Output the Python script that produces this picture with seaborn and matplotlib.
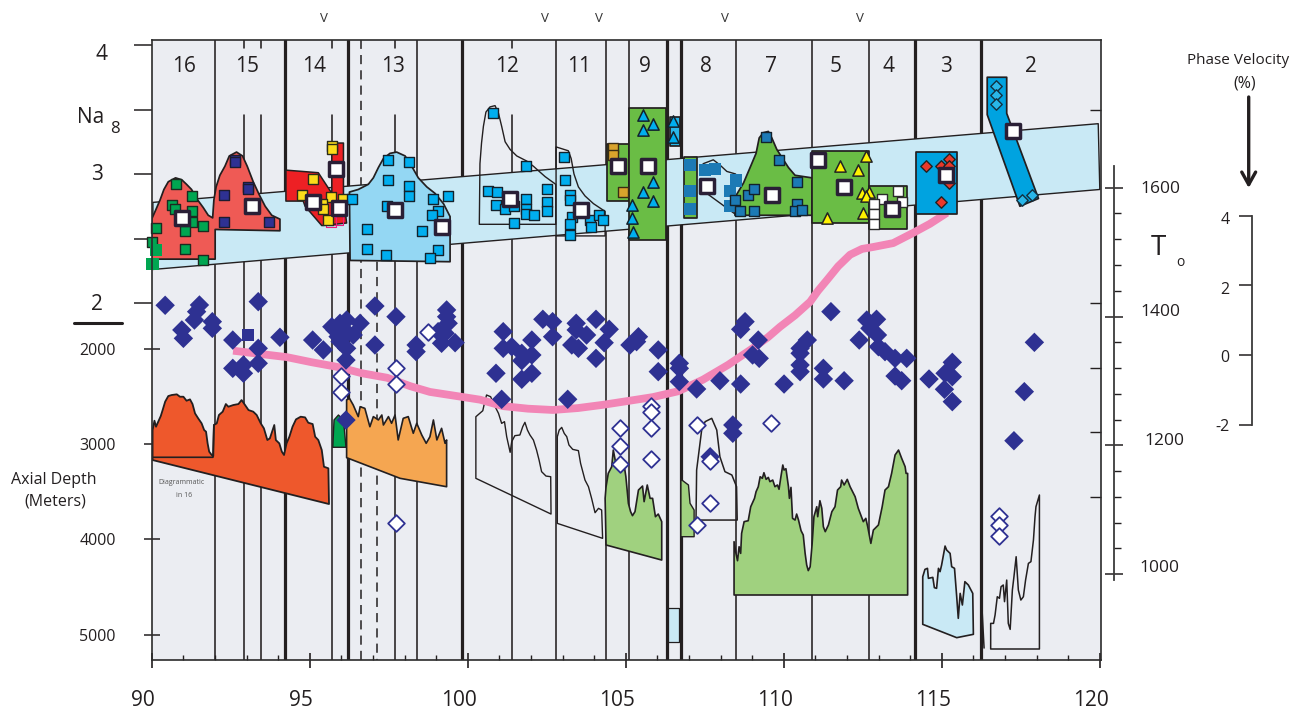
import numpy as np
import matplotlib
matplotlib.use("Agg")
import matplotlib.pyplot as plt
from matplotlib.ticker import MultipleLocator, FixedLocator, NullFormatter
from matplotlib.transforms import ScaledTranslation, blended_transform_factory
import seaborn as sns

# ---------------- section labels / axes text ----------------
seg_labels = ["16", "15", "14", "13", "12", "11", "9", "8", "7", "5", "4", "3", "2"]
seg_label_px = [184, 247, 314, 393, 507, 579, 645, 706, 771, 836, 888, 946, 1031]
depth_ticks = [2000, 3000, 4000, 5000]
lon_major = [90, 95, 100, 105, 110, 115, 120]
vent_lon = [95.5, 102.53, 104.25, 108.25, 112.55]

# ---------------- segment boundaries (longitude) ----------------
thick_lon = [94.26, 96.26, 99.89, 106.41, 106.85, 114.29, 116.39]
full_thin_lon = [92.04, 98.46, 102.88, 104.47, 105.2, 108.6, 111.02, 112.83]
gap_thin_lon = [92.96, 93.5, 95.76, 97.76, 101.48]
dash_full_lon = [96.68]
dash_part_lon = [97.18]

# ---------------- Na8 band ----------------
band_lon = [90.06, 120.12, 120.17, 90.06]
band_na = [2.78, 3.39, 2.88, 2.26]

# ---------------- Na8 polygons ----------------
red1_lon = [90.02, 90.13, 90.29, 90.41, 90.55, 90.78, 90.98, 91.13, 91.29, 91.45, 91.66, 91.82, 91.96, 92.0, 92.07, 92.19, 92.35, 92.49, 92.72, 92.91, 93.06, 93.25, 93.44, 93.63, 93.84, 94.1, 94.1, 92.04, 92.04, 90.02]
red1_na = [2.65, 2.71, 2.8, 2.88, 2.94, 2.97, 2.955, 2.92, 2.88, 2.81, 2.74, 2.68, 2.66, 2.8, 2.9, 2.99, 3.06, 3.14, 3.17, 3.14, 3.06, 2.94, 2.84, 2.75, 2.68, 2.65, 2.56, 2.57, 2.34, 2.34]
red14_lon = [94.29, 95.32, 95.75, 95.75, 96.12, 96.12, 96.22, 95.43, 94.9, 94.84, 94.29]
red14_na = [3.03, 3.01, 2.85, 3.24, 3.24, 2.82, 2.62, 2.6, 2.75, 2.79, 2.79]
sky13_lon = [96.31, 96.59, 96.91, 97.07, 97.23, 97.39, 97.6, 97.81, 98.08, 98.29, 98.5, 98.77, 99.03, 99.3, 99.51, 99.51, 96.33]
sky13_na = [2.86, 2.88, 2.92, 2.97, 3.05, 3.12, 3.16, 3.17, 3.14, 3.06, 2.97, 2.9, 2.85, 2.77, 2.67, 2.32, 2.33]
out12_lon = [100.44, 100.46, 100.51, 100.57, 100.65, 100.78, 100.94, 101.05, 101.15, 101.26, 101.42, 101.63, 101.95, 102.16, 102.53, 102.87, 102.87, 100.44]
out12_na = [2.61, 3.08, 3.24, 3.37, 3.48, 3.52, 3.53, 3.47, 3.37, 3.25, 3.19, 3.14, 3.10, 3.06, 2.98, 2.92, 2.61, 2.61]
out11_lon = [102.88, 103.27, 103.36, 103.45, 103.59, 103.8, 104.07, 104.44, 104.44, 102.88]
out11_na = [3.21, 3.18, 3.12, 3.0, 2.9, 2.83, 2.77, 2.71, 2.52, 2.52]
out8_lon = [107.46, 107.56, 107.88, 108.09, 108.31, 108.59]
out8_na = [3.03, 3.08, 3.11, 3.07, 3.02, 3.0]
out8b_lon = [107.67, 108.57]
out8b_na = [2.85, 2.69]
green7_lon = [108.57, 108.62, 108.84, 109.05, 109.24, 109.34, 109.47, 109.63, 109.74, 109.9, 110.11, 110.27, 110.48, 111.02, 111.02, 108.57]
green7_na = [2.72, 2.84, 2.93, 3.05, 3.16, 3.28, 3.32, 3.33, 3.28, 3.19, 3.11, 3.05, 2.99, 2.97, 2.68, 2.68]
blue2_lon = [116.59, 117.21, 117.21, 118.22, 117.63, 116.59]
blue2_na = [3.75, 3.75, 3.47, 2.81, 2.75, 3.46]
# rectangles: lon0, lon1, na_top, na_bottom, colour
rect_lon0 = [104.51, 105.2, 106.49, 106.94, 111.03, 112.84, 114.33]
rect_lon1 = [105.2, 106.38, 106.81, 107.35, 112.84, 114.03, 115.62]
rect_top = [3.23, 3.51, 3.44, 3.13, 3.18, 2.91, 3.17]
rect_bot = [2.79, 2.49, 3.22, 2.66, 2.62, 2.57, 2.69]
rect_col = ["#6abd45", "#6abd45", "#29b6e8", "#6abd45", "#6abd45", "#6abd45", "#00a3e0"]

# ---------------- Na8 samples ----------------
g16_lon = [90.79, 91.29, 90.66, 90.76, 91.29, 91.29, 91.64, 91.08, 90.15, 90.04, 91.08, 91.64]
g16_na = [2.92, 2.83, 2.76, 2.73, 2.71, 2.63, 2.60, 2.56, 2.58, 2.47, 2.42, 2.33]
g16b_lon = [90.16, 90.05]
g16b_na = [2.41, 2.30]
n15_lon = [92.67, 92.67, 92.32, 93.09, 93.09, 92.32, 93.76]
n15_na = [3.11, 3.09, 2.84, 2.9, 2.88, 2.63, 2.63]
y14_lon = [95.77, 95.77, 95.14, 94.81, 95.71, 96.12, 95.43, 95.48, 95.64]
y14_na = [3.22, 3.19, 2.96, 2.84, 2.82, 2.81, 2.77, 2.73, 2.64]
m14_lon = [95.72, 95.95]
m14_na = [2.63, 2.64]
b13_lon = [97.53, 98.2, 97.53, 98.2, 98.2, 96.39, 98.98, 99.44, 97.5, 99.13, 98.93, 96.86, 98.61, 96.86, 97.47, 99.13, 98.87]
b13_na = [3.11, 3.09, 2.95, 2.91, 2.83, 2.81, 2.81, 2.83, 2.75, 2.71, 2.68, 2.57, 2.56, 2.42, 2.37, 2.41, 2.35]
b12_lon = [100.89, 101.93, 100.73, 100.99, 100.97, 101.26, 101.55, 101.91, 101.91, 101.91, 102.18, 102.6, 102.6, 102.6, 101.55]
b12_na = [3.47, 3.06, 2.87, 2.86, 2.76, 2.73, 2.75, 2.81, 2.73, 2.69, 2.68, 2.88, 2.78, 2.71, 2.62]
b11_lon = [103.12, 103.17, 103.31, 103.31, 103.4, 103.31, 103.31, 103.97, 103.99, 104.23, 104.36]
b11_na = [3.13, 2.95, 2.84, 2.8, 2.67, 2.61, 2.53, 2.64, 2.59, 2.68, 2.64]
gold_lon = [104.7, 104.7, 105.0]
gold_na = [3.2, 3.15, 2.86]
tri_b_lon = [105.65, 105.95, 105.65, 105.95, 105.65, 105.95, 105.3, 105.3, 105.34, 106.6, 106.6]
tri_b_na = [3.46, 3.39, 3.34, 2.94, 2.86, 2.79, 2.76, 2.66, 2.55, 3.41, 3.29]
t8_lon = [107.15, 107.15, 107.15, 107.63, 107.92, 108.6, 108.4, 108.4]
t8_na = [3.07, 2.87, 2.73, 3.03, 3.04, 2.95, 2.87, 2.75]
t7_lon = [108.57, 108.73, 109.19, 108.98, 109.19, 109.55, 109.97, 110.53, 110.53, 110.48, 110.69]
t7_na = [2.8, 2.71, 2.71, 2.84, 2.88, 3.29, 3.11, 2.94, 2.77, 2.71, 2.72]
tri_y_lon = [111.91, 112.47, 112.73, 112.61, 112.82, 112.63, 111.5, 112.72]
tri_y_na = [3.06, 3.03, 3.14, 2.85, 2.86, 2.7, 2.66, 2.83]
w4_lon = [113.75, 113.23, 112.98, 112.98, 112.98, 113.87]
w4_na = [2.87, 2.81, 2.77, 2.69, 2.61, 2.78]
rd3_lon = [114.65, 115.37, 115.11, 115.11, 115.37, 115.37]
rd3_na = [3.06, 3.12, 3.06, 2.78, 3.06, 2.93]
bd2_lon = [116.88, 116.88, 116.88, 117.7, 118.0]
bd2_na = [3.68, 3.61, 3.54, 2.80, 2.84]
mean_lon = [91.0, 93.2, 95.14, 95.87, 95.98, 97.76, 99.26, 101.42, 103.67, 104.86, 105.8, 107.67, 109.76, 111.2, 112.03, 113.57, 115.29, 117.4]
mean_na = [2.66, 2.75, 2.78, 3.04, 2.74, 2.72, 2.59, 2.81, 2.72, 3.06, 3.06, 2.91, 2.84, 3.11, 2.9, 2.73, 2.99, 3.33]

# ---------------- T0 curve ----------------
curve_lon = [92.61, 93.47, 94.32, 95.12, 95.91, 96.71, 97.51, 98.24, 98.87, 99.67, 100.46, 101.19, 101.99, 102.78, 103.58, 104.37, 105.17, 105.96, 106.76, 107.55, 108.35, 109.14, 109.62, 110.0, 110.48, 110.96, 111.21, 111.5, 111.85, 112.23, 112.61, 112.97, 113.6, 114.24, 114.77, 115.31]
curve_t = [1347, 1342, 1337, 1329, 1322, 1312, 1305, 1292, 1283, 1277, 1271, 1261, 1257, 1255, 1258, 1263, 1269, 1275, 1284, 1302, 1325, 1351, 1368, 1384, 1402, 1423, 1440, 1457, 1478, 1496, 1505, 1508, 1514, 1530, 1544, 1561]

# ---------------- phase-velocity diamonds ----------------
dia_lon = [90.45, 91.45, 91.54, 91.38, 90.98, 91.03, 91.95, 91.95, 92.6, 93.41, 93.41, 92.6, 92.94, 92.94, 93.41, 94.1, 95.14, 95.48, 95.75, 96.01, 96.22, 96.65, 96.22, 96.43, 96.01, 96.22, 96.2, 97.12, 97.12, 97.79, 98.43, 98.43, 99.4, 99.4, 99.45, 99.13, 99.35, 99.24, 99.67, 96.2, 95.85, 96.1, 95.95,
           101.2, 101.2, 101.47, 101.79, 101.79, 102.11, 102.11, 100.97, 101.79, 102.11, 102.46, 102.77, 102.77, 103.52, 103.52, 103.85, 103.38, 103.59, 104.15, 104.57, 104.41, 104.15, 105.23, 105.5, 105.44, 106.13, 106.13, 106.8, 106.8, 106.8, 107.35, 108.09, 108.75, 108.89, 108.75, 109.31, 109.13, 109.34, 110.13, 101.15, 103.25, 108.5, 108.5, 107.78,
           111.62, 110.64, 110.87, 110.64, 110.64, 110.64, 111.38, 111.38, 112.04, 112.52, 112.76, 113.07, 112.86, 113.1, 113.13, 113.34, 113.66, 114.03, 113.66, 113.87, 114.74, 115.48, 115.25, 115.48, 115.23, 115.48, 118.09, 117.77, 117.44]
dia_depth = [1541, 1608, 1538, 1696, 1800, 1888, 1713, 1783, 1906, 1503, 1993, 2203, 2168, 2255, 2150, 1877, 1906, 2010, 1766, 1730, 1696, 1730, 1835, 1853, 1923, 1993, 2116, 1549, 1958, 1661, 1958, 2028, 1590, 1661, 1730, 1818, 1835, 1940, 1934, 2746, 1800, 1780, 1870,
             1818, 1993, 1976, 2045, 2123, 1906, 2063, 2255, 2318, 2255, 1688, 1713, 1871, 1730, 1800, 1853, 1958, 1993, 1688, 1793, 1934, 2098, 1958, 1871, 1923, 2010, 2238, 2150, 2203, 2343, 2420, 2333, 2368, 1713, 1793, 1906, 2063, 2098, 2368, 2528, 2528, 2798, 2885, 3131,
             1608, 1993, 1906, 2045, 2168, 2238, 2203, 2315, 2333, 1906, 1696, 1688, 1783, 1853, 1976, 2028, 2098, 2098, 2284, 2333, 2315, 2140, 2255, 2291, 2423, 2553, 1930, 2448, 2963]
sq_lon = [93.09]
sq_depth = [1853]
open_lon = [96.04, 96.04, 97.79, 97.79, 98.8, 97.78, 105.9, 105.9, 105.9, 105.9, 104.9, 104.9, 104.9, 107.35, 107.78, 107.78, 107.35, 109.72, 116.96, 116.96, 116.96]
open_depth = [2284, 2448, 2203, 2368, 1825, 3830, 2595, 2665, 2833, 3155, 2833, 3015, 3208, 2798, 3173, 3614, 3848, 2774, 3754, 3848, 3964]

# ---------------- axial depth profiles ----------------
p16_lon = [90.05, 90.11, 90.16, 90.23, 90.31, 90.37, 90.45, 90.55, 90.66, 90.82, 90.92, 91.03, 91.13, 91.24, 91.32, 91.4, 91.5, 91.61, 91.69, 91.75, 91.8, 91.85, 91.93, 91.98, 92.0, 92.09, 92.16, 92.28, 92.38, 92.46, 92.62, 92.78, 92.88, 92.99, 93.1, 93.25, 93.36, 93.49, 93.59, 93.7, 93.78, 93.92, 93.97, 94.08, 94.16, 94.23, 94.31, 94.4, 94.5, 94.61, 94.76, 94.9, 95.0, 95.14, 95.22, 95.32, 95.43, 95.5, 95.64, 95.66, 90.05]
p16_depth = [2851, 2753, 2816, 2763, 2704, 2641, 2553, 2494, 2483, 2476, 2501, 2501, 2543, 2529, 2578, 2676, 2728, 2781, 2851, 2868, 2991, 3078, 3113, 3124, 2798, 2781, 2693, 2658, 2578, 2606, 2588, 2578, 2536, 2588, 2641, 2658, 2693, 2781, 2833, 2956, 2938, 2798, 2956, 2991, 3078, 3113, 2991, 2921, 2816, 2739, 2711, 2718, 2774, 2788, 2921, 2956, 3061, 3236, 3253, 3628, 3166]
p16i_lon = [90.06, 91.97, 92.0]
p16i_depth = [3137, 3137, 2798]
p13_lon = [96.22, 96.31, 96.43, 96.59, 96.65, 96.8, 96.96, 97.07, 97.23, 97.34, 97.39, 97.55, 97.65, 97.76, 97.86, 98.02, 98.18, 98.34, 98.45, 98.61, 98.75, 98.87, 98.98, 99.09, 99.24, 99.35, 99.4, 99.4, 97.92, 96.22]
p13_depth = [2535, 2518, 2588, 2710, 2606, 2623, 2816, 2710, 2745, 2693, 2798, 2710, 2780, 2693, 2955, 2728, 2710, 2885, 2780, 2903, 2990, 2921, 2745, 2955, 2833, 2990, 2955, 3446, 3358, 3141]
pg_lon = [95.78, 95.82, 95.96, 96.12, 96.2]
pg_depth = [3032, 2745, 2693, 2745, 3032]
p12_lon = [100.33, 100.33, 100.55, 100.59, 100.67, 100.8, 100.89, 101.05, 101.15, 101.24, 101.31, 101.42, 101.47, 101.57, 101.73, 101.82, 101.89, 101.97, 102.05, 102.16, 102.26, 102.34, 102.42, 102.56, 102.71, 102.72, 100.33]
p12_depth = [3358, 2711, 2648, 2588, 2483, 2501, 2571, 2676, 2781, 2763, 2921, 3085, 2973, 2910, 2903, 2816, 2770, 2851, 2903, 2956, 3061, 3166, 3288, 3334, 3341, 3733, 3358]
p11_lon = [102.92, 102.92, 102.98, 103.06, 103.14, 103.22, 103.29, 103.41, 103.59, 103.66, 103.8, 103.91, 104.01, 104.12, 104.23, 104.33, 104.36, 102.92]
p11_depth = [3831, 2921, 2851, 2823, 2886, 2921, 3008, 3054, 3067, 3201, 3376, 3446, 3568, 3719, 3673, 3691, 3988, 3831]
p9_lon = [104.44, 104.47, 104.54, 104.65, 104.7, 104.78, 104.88, 105.02, 105.1, 105.18, 105.25, 105.31, 105.39, 105.5, 105.63, 105.68, 105.78, 105.87, 105.95, 106.04, 106.13, 106.24, 106.24, 104.47]
p9_depth = [3568, 3446, 3306, 3236, 3061, 3201, 3183, 3166, 3341, 3621, 3708, 3750, 3708, 3481, 3439, 3603, 3428, 3568, 3568, 3761, 3733, 3813, 4216, 4058]
p8g_lon = [106.85, 106.85, 107.09, 107.14, 107.27, 107.27]
p8g_depth = [3971, 3368, 3428, 3620, 3691, 3971]
p8_lon = [107.33, 107.35, 107.51, 107.62, 107.83, 107.99, 108.09, 108.25, 108.47, 108.62, 108.64, 107.33]
p8_depth = [3796, 3271, 2851, 2763, 2728, 2851, 3131, 3288, 3323, 3446, 3796, 3796]
p7_lon = [108.54, 108.54, 108.60, 108.65, 108.70, 108.75, 108.78, 108.86, 108.99, 109.07, 109.19, 109.24, 109.31, 109.37, 109.44, 109.49, 109.56, 109.63, 109.68, 109.77, 109.84, 109.92, 109.97, 110.03, 110.09, 110.13, 110.19, 110.27, 110.30, 110.35, 110.40, 110.48, 110.53, 110.59, 110.67, 110.74, 110.80, 110.85, 110.90, 110.96, 111.02, 111.08, 111.17, 111.20, 111.27, 111.33, 111.38, 111.44, 111.54, 111.65, 111.75, 111.83, 111.93, 111.96, 112.04, 112.14, 112.23, 112.39, 112.49, 112.65, 112.73, 112.79, 112.89, 112.97, 113.13, 113.25, 113.34, 113.45, 113.55, 113.66, 113.77, 113.87, 113.98, 114.01, 114.06, 114.06]
p7_depth = [4583, 4023, 4146, 4223, 4076, 4146, 3936, 3813, 3803, 3656, 3568, 3498, 3446, 3341, 3358, 3299, 3369, 3348, 3393, 3376, 3446, 3428, 3473, 3341, 3218, 3271, 3257, 3446, 3568, 3453, 3778, 3796, 3733, 3796, 3907, 3953, 4146, 4268, 4327, 4286, 4058, 3761, 3656, 3761, 3593, 3673, 3866, 3918, 3848, 3708, 3656, 3481, 3446, 3376, 3428, 3369, 3446, 3551, 3673, 3813, 3778, 3866, 4041, 3901, 3848, 3656, 3481, 3446, 3306, 3113, 3061, 3148, 3236, 3306, 3306, 4583]
p3_lon = [114.54, 114.54, 114.61, 114.69, 114.72, 114.86, 114.91, 114.98, 115.04, 115.09, 115.14, 115.25, 115.3, 115.41, 115.46, 115.55, 115.62, 115.67, 115.73, 115.8, 115.88, 115.99, 116.13, 116.15, 115.62]
p3_depth = [4891, 4391, 4314, 4303, 4408, 4398, 4506, 4513, 4303, 4338, 4268, 4069, 4111, 4146, 4286, 4303, 4601, 4828, 4566, 4688, 4443, 4478, 4566, 4996, 5031]
p2_lon = [116.7, 116.7, 116.79, 116.84, 116.91, 116.98, 117.03, 117.1, 117.14, 117.21, 117.26, 117.32, 117.39, 117.44, 117.51, 117.58, 117.66, 117.74, 117.81, 117.9, 117.98, 118.06, 118.11, 118.14, 118.25, 118.25, 116.7]
p2_depth = [5150, 4881, 4881, 4793, 4601, 4618, 4496, 4478, 4653, 4426, 4881, 4944, 4531, 4391, 4181, 4531, 4636, 4601, 4426, 4251, 4233, 4006, 3761, 3656, 3533, 5150, 5150]
p2s_lon = [116.41, 116.49]
p2s_depth = [4636, 5140]
box_lon = [106.44, 106.79, 106.79, 106.44]
box_depth = [4720, 4720, 5077, 5077]

# ---------------- styling ----------------
W, H = 1301, 709
INK = "#231f20"
BG = "#ebedf2"
NAVY = "#2e3192"
DARK = "#2a1f36"

sns.set_theme(style="white", rc={"axes.linewidth": 1.1, "axes.edgecolor": "#2b2b2b"})
plt.rcParams["font.family"] = ["Open Sans", "DejaVu Sans"]
plt.rcParams["text.color"] = INK
plt.rcParams["axes.labelcolor"] = INK
plt.rcParams["xtick.color"] = INK
plt.rcParams["ytick.color"] = INK


def box(l, t, r, b):
    return [l / W, 1 - b / H, (r - l) / W, (b - t) / H]


def lon(v):
    """calibrate digitised longitudes onto the tick scale"""
    return 90 + (np.asarray(v, float) - 90) * 0.99516 - 0.022


def na2d(v):
    """Na8 value -> position on the shared depth scale"""
    return 1517 - 1354.5 * (np.asarray(v, float) - 2)


def d2na(v):
    return 2 + (1517 - np.asarray(v, float)) / 1354.5


def t2d(v):
    return 306.35 + 6.765 * (1600 - np.asarray(v, float))


def ftext(px, py, s, size, **kw):
    kw.setdefault("ha", "center")
    kw.setdefault("va", "center")
    fig.text(px / W, 1 - py / H, s, fontsize=size, **kw)


fig = plt.figure(figsize=(W / 100, H / 100), dpi=100, facecolor="white")
ax = fig.add_axes(box(151.7, 40, 1101, 660), facecolor=BG)


def pts(xs, ys, marker, s, fc, ec="none", lw=0.0, z=6):
    sns.scatterplot(x=lon(xs), y=np.asarray(ys, float), marker=marker, s=s, color=fc,
                    edgecolor=ec, linewidth=lw, zorder=z, clip_on=False, legend=False, ax=ax)


def poly(xs, ys, fc, ec=INK, lw=1.1, z=4):
    ax.fill(lon(xs), ys, facecolor=fc, edgecolor=ec, linewidth=lw, zorder=z, joinstyle="round")


# boundaries
GAP_TOP, GAP_BOT = -1160, -460
for x in thick_lon:
    ax.axvline(lon(x), color=INK, lw=2.3, zorder=2)
for x in full_thin_lon:
    ax.axvline(lon(x), color=INK, lw=1.15, zorder=2)
for x in gap_thin_lon:
    xx = lon(x)
    ax.plot([xx, xx], [-1250, GAP_TOP], color=INK, lw=1.15, zorder=2)
    ax.plot([xx, xx], [GAP_BOT, 5270], color=INK, lw=1.15, zorder=2)
for x in dash_full_lon:
    ax.axvline(lon(x), color=INK, lw=1.1, ls=(0, (6, 4)), zorder=2)
for x in dash_part_lon:
    xx = lon(x)
    ax.plot([xx, xx], [120, 5270], color=INK, lw=1.1, ls=(0, (6, 4)), zorder=2)

# Na8 band and polygons
poly(band_lon, na2d(band_na), "#c9e9f5", lw=1.0, z=3)
poly(red1_lon, na2d(red1_na), "#ef5a55", lw=1.25, z=5.5)
poly(red14_lon, na2d(red14_na), "#ed2024", lw=1.1, z=5.5)
poly(sky13_lon, na2d(sky13_na), "#94d7f3", lw=1.25, z=5.5)
poly(out12_lon, na2d(out12_na), "none", lw=1.0, z=5.5)
poly(out11_lon, na2d(out11_na), "none", lw=1.0, z=5.5)
ax.plot(lon(out8_lon), na2d(out8_na), color=INK, lw=1.0, zorder=5.5)
ax.plot(lon(out8b_lon), na2d(out8b_na), color=INK, lw=1.0, zorder=5.5)
poly(green7_lon, na2d(green7_na), "#6abd45", lw=1.25, z=5.5)
for x0, x1, t, b, c in zip(rect_lon0, rect_lon1, rect_top, rect_bot, rect_col):
    poly([x0, x1, x1, x0], na2d([t, t, b, b]), c, lw=1.25, z=5.5)
poly(blue2_lon, na2d(blue2_na), "#00a3e0", lw=1.25, z=5.5)

# depth profiles
poly(p16_lon, p16_depth, "#ee582c", lw=1.3)
ax.plot(lon(p16i_lon), p16i_depth, color=INK, lw=1.2, zorder=4.2)
poly(pg_lon, pg_depth, "#00a651", lw=1.0, z=3.9)
poly(p13_lon, p13_depth, "#f5a651", lw=1.2)
poly(p12_lon, p12_depth, "none", lw=1.0)
poly(p11_lon, p11_depth, "none", lw=1.0)
poly(p9_lon, p9_depth, "#a0d17f", lw=1.2)
poly(p8g_lon, p8g_depth, "#a0d17f", lw=1.0)
poly(p8_lon, p8_depth, "none", lw=1.1)
poly(p7_lon, p7_depth, "#a0d17f", lw=1.2)
poly(p3_lon, p3_depth, "#c9e9f5", lw=1.2)
poly(p2_lon, p2_depth, "none", lw=1.1)
ax.plot(lon(p2s_lon), p2s_depth, color=INK, lw=1.1, zorder=4)
poly(box_lon, box_depth, "#c9e9f5", lw=0.9, z=3)

# temperature curve
sns.lineplot(x=lon(curve_lon), y=t2d(curve_t), sort=False, estimator=None, color="#f285b6",
             linewidth=5.6, zorder=5, ax=ax, legend=False, solid_capstyle="butt",
             solid_joinstyle="round")

# phase velocity diamonds
pts(dia_lon, dia_depth, "D", 98, NAVY, z=6.2)
pts(sq_lon, sq_depth, "s", 76, NAVY, z=6.2)
pts(open_lon, open_depth, "D", 72, "white", NAVY, 1.3, z=6.3)

# Na8 samples
pts(g16_lon, na2d(g16_na), "s", 46, "#00a651", "#1d2a20", 1.0, z=7)
pts(g16b_lon, na2d(g16b_na), "s", 78, "#00a651", z=7)
pts(n15_lon, na2d(n15_na), "s", 46, "#2e3192", "#1c1c30", 1.0, z=7)
pts(m14_lon, na2d(m14_na), "s", 52, "none", "#ec1c7c", 0.8, z=6.9)
pts(y14_lon, na2d(y14_na), "s", 46, "#fbdc1a", "#2b2b1a", 1.0, z=7)
pts(b13_lon, na2d(b13_na), "s", 46, "#00aeef", "#13222c", 1.0, z=7)
pts(b12_lon, na2d(b12_na), "s", 46, "#00aeef", "#13222c", 1.0, z=7)
pts(b11_lon, na2d(b11_na), "s", 46, "#00aeef", "#13222c", 1.0, z=7)
pts(gold_lon, na2d(gold_na), "s", 46, "#d9a32c", "#3a2c14", 1.0, z=7)
pts(tri_b_lon, na2d(tri_b_na), "^", 66, "#00aeef", "#13222c", 1.1, z=7)
pts(t8_lon, na2d(t8_na), "s", 76, "#1c7ab5", z=7)
pts(t7_lon, na2d(t7_na), "s", 46, "#1c7ab5", "#13222c", 1.0, z=7)
pts(tri_y_lon, na2d(tri_y_na), "^", 66, "#fff200", "#232323", 1.1, z=7)
pts(w4_lon, na2d(w4_na), "s", 46, "white", "#2b2b2b", 1.0, z=7)
pts(rd3_lon, na2d(rd3_na), "D", 34, "#e8382a", "#222222", 1.0, z=7)
pts(bd2_lon, na2d(bd2_na), "D", 34, "#29b6e8", "#123040", 1.0, z=7)
pts(mean_lon, na2d(mean_na), "s", 108, "white", DARK, 2.5, z=8)

# main axes
ax.set_xlim(90, 120.04)
ax.set_ylim(5265.5, -1244.5)
ax.set_xlabel("")
ax.set_ylabel("")
for sp in ax.spines.values():
    sp.set_linewidth(1.2)
    sp.set_color("#2b2b2b")
    sp.set_zorder(9)

ax.set_xticks(lon_major)
ax.set_xticklabels([str(v) for v in lon_major], fontsize=15)
ax.xaxis.set_minor_locator(MultipleLocator(1))
ax.tick_params(axis="x", which="major", direction="inout", length=10.8, width=1.2, pad=16, bottom=True)
ax.tick_params(axis="x", which="minor", direction="in", length=3.6, width=1.0, bottom=True)
shift = ScaledTranslation(-8.5 / 100, 0, fig.dpi_scale_trans)
for lbl in ax.get_xticklabels():
    lbl.set_transform(lbl.get_transform() + shift)

ax.set_yticks(depth_ticks)
ax.set_yticklabels([str(v) for v in depth_ticks], fontsize=11.5)
ax.tick_params(axis="y", which="major", direction="inout", length=11.5, width=1.1, pad=20, left=True)

# Na8 scale: left and right of the frame
na_left = ax.secondary_yaxis("left", functions=(d2na, na2d))
na_left.set_yticks([4, 3.5, 3, 2.5, 2])
na_left.tick_params(axis="y", direction="out", length=13, width=1.1, labelleft=False, left=True)
na_left.spines["left"].set_visible(False)
na_right = ax.secondary_yaxis("right", functions=(d2na, na2d))
na_right.set_yticks([3.5, 2, 1.5, 1, 0.5])
na_right.tick_params(axis="y", direction="in", length=8, width=1.0, labelright=False, right=True)
na_right.spines["right"].set_visible(False)

# segment labels and vents
for s, px in zip(seg_labels, seg_label_px):
    ftext(px, 67, s, 15)
vent_tf = blended_transform_factory(ax.transData, fig.transFigure)
for x in vent_lon:
    ax.text(lon(x), 1 - 19 / H, "V", transform=vent_tf, fontsize=9.5, ha="center", va="center",
            color="#333333", clip_on=False)
ftext(182, 482.5, "Diagrammatic", 5, color="#555555")
ftext(184, 495.5, "in 16", 5, color="#555555")

# left text
ftext(102, 55, "4", 15)
ftext(91, 117.5, "Na", 15)
ftext(115, 129, "8", 12)
ftext(97, 174, "3", 15)
ftext(97, 304, "2", 15)
fig.add_artist(plt.Line2D([73.7 / W, 122 / W], [1 - 323 / H, 1 - 323 / H], color=INK, lw=2.2))
ftext(53.3, 480, "Axial Depth", 11.5)
ftext(55, 501.7, "(Meters)", 11.5)

# T0 axis
tax = fig.add_axes(box(1114, 166, 1134, 580), facecolor="none")
tax.set_ylim(991, 1633.7)
tax.set_xticks([])
for k in ("top", "right", "bottom"):
    tax.spines[k].set_visible(False)
tax.spines["left"].set_linewidth(1.3)
tax.spines["left"].set_color("#3a3a3a")
tax.yaxis.set_major_locator(FixedLocator([1000, 1200, 1400, 1600]))
tax.yaxis.set_minor_locator(MultipleLocator(40))
tax.yaxis.set_major_formatter(NullFormatter())
tax.tick_params(axis="y", which="major", direction="inout", length=13, width=1.1, left=True)
tax.tick_params(axis="y", which="minor", direction="in", length=5, width=1.0, left=True)
ftext(1160, 189, "1600", 12.5)
ftext(1160, 312, "1400", 12.5)
ftext(1164, 441, "1200", 12.5)
ftext(1159, 568, "1000", 12.5)
ftext(1158, 248, "T", 20)
ftext(1180, 262, "o", 10)

# phase velocity axis
pax = fig.add_axes(box(1239, 215.7, 1252, 425), facecolor="none")
pax.set_ylim(-2, 4)
pax.set_xticks([])
pax.set_yticks([-2, 0, 2, 4])
pax.set_yticklabels([])
for k in ("top", "left", "bottom"):
    pax.spines[k].set_visible(False)
pax.spines["right"].set_linewidth(1.3)
pax.spines["right"].set_color("#3a3a3a")
pax.tick_params(axis="y", direction="in", length=9.4, width=1.1, left=False, right=True)
ftext(1225, 220, "4", 11.5)
ftext(1225, 290, "2", 11.5)
ftext(1225, 358, "0", 11.5)
ftext(1223, 427, "-2", 11.5)
ftext(1237.7, 61, "Phase Velocity", 11)
ftext(1245, 84, "(%)", 11.5)
fig.add_artist(matplotlib.patches.FancyArrowPatch(
    posA=(1248.7 / W, 1 - 97 / H), posB=(1248.7 / W, 1 - 188 / H), transform=fig.transFigure,
    arrowstyle="->,head_length=9,head_width=5", lw=2.4, color=INK, shrinkA=0, shrinkB=0))

fig.savefig("out.png", dpi=100, facecolor="white")
